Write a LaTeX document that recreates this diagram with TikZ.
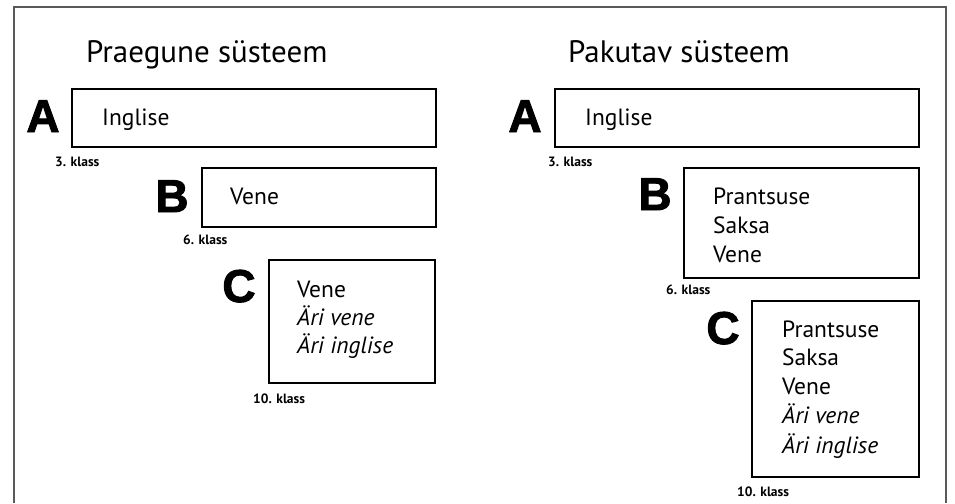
\documentclass[tikz,border=0pt]{standalone}
\usepackage{fontspec}
\setmainfont{PT Sans}
\newfontfamily\heavyfont[FakeBold=2]{Liberation Sans Bold}
\begin{document}
\begin{tikzpicture}[x=1pt,y=-1pt,
  frame/.style={draw=black!65,line width=1.3pt},
  box/.style={draw=black,line width=1.6pt,inner sep=0pt,anchor=north west},
  title/.style={anchor=base west,inner sep=0pt,font=\fontsize{31}{34}\selectfont},
  item/.style={anchor=base west,inner sep=0pt,font=\fontsize{23.5}{26}\selectfont},
  itemit/.style={item,font=\fontsize{23.5}{26}\selectfont\itshape},
  grade/.style={anchor=base west,inner sep=0pt,font=\fontsize{13.5}{15}\selectfont\bfseries},
  letter/.style={anchor=base,inner sep=0pt,font=\fontsize{46}{50}\selectfont\heavyfont}]
\useasboundingbox (0,0) rectangle (955,503);
\coordinate (f1) at (14,503);
\coordinate (f2) at (14,7);
\coordinate (f3) at (946,7);
\coordinate (f4) at (946,503);
\draw[frame] (f1) -- (f2) -- (f3) -- (f4);
% left panel
\node[title] (t1) at (86,63) {Praegune süsteem};
\node[box,minimum width=364,minimum height=58] (lA) at (71,88) {};
\node[letter] (lAl) at (43,132) {A};
\node[item] (lA1) at (102,125) {Inglise};
\node[grade] (lAg) at (55,166) {3. klass};
\node[box,minimum width=234,minimum height=59] (lB) at (201,167) {};
\node[letter] (lBl) at (172,212) {B};
\node[item] (lB1) at (230,204) {Vene};
\node[grade] (lBg) at (183,244) {6. klass};
\node[box,minimum width=166,minimum height=123] (lC) at (268,259) {};
\node[letter] (lCl) at (239,302) {C};
\node[item] (lC1) at (297,297) {Vene};
\node[itemit] (lC2) at (297,325) {Äri vene};
\node[itemit] (lC3) at (297,353) {Äri inglise};
\node[grade] (lCg) at (253,403) {10. klass};
% right panel
\node[title] (t2) at (568,63) {Pakutav süsteem};
\node[box,minimum width=364,minimum height=58] (rA) at (554,88) {};
\node[letter] (rAl) at (525,132) {A};
\node[item] (rA1) at (585,125) {Inglise};
\node[grade] (rAg) at (548,166) {3. klass};
\node[box,minimum width=235,minimum height=110] (rB) at (683,167) {};
\node[letter] (rBl) at (655,210) {B};
\node[item] (rB1) at (713,204) {Prantsuse};
\node[item] (rB2) at (713,233) {Saksa};
\node[item] (rB3) at (713,262) {Vene};
\node[grade] (rBg) at (666,294) {6. klass};
\node[box,minimum width=167,minimum height=176] (rC) at (751,300) {};
\node[letter] (rCl) at (723,344) {C};
\node[item] (rC1) at (782,337) {Prantsuse};
\node[item] (rC2) at (782,365) {Saksa};
\node[item] (rC3) at (782,394) {Vene};
\node[itemit] (rC4) at (782,423) {Äri vene};
\node[itemit] (rC5) at (782,453) {Äri inglise};
\node[grade] (rCg) at (737,496) {10. klass};
\end{tikzpicture}
\end{document}
